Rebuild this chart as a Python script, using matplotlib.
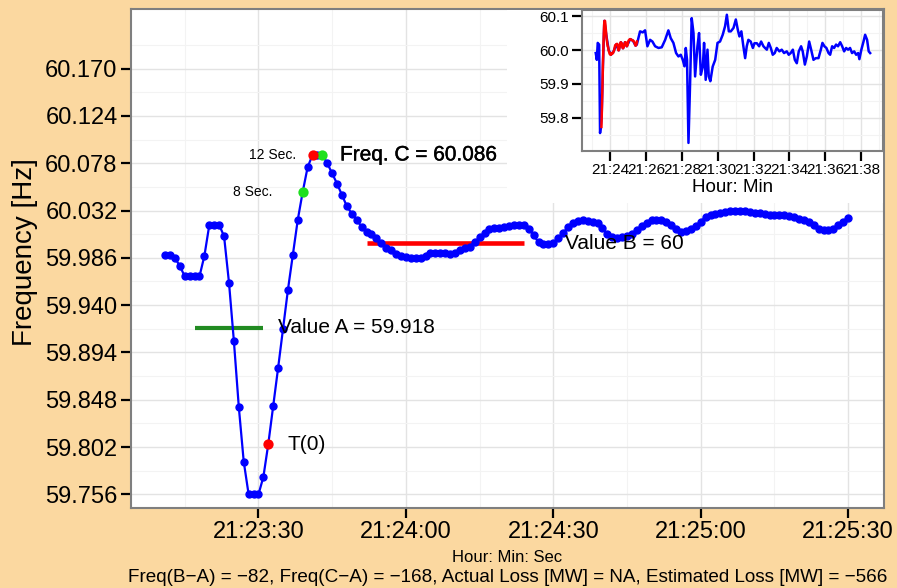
import numpy as np
import pandas as pd
import matplotlib
matplotlib.use('Agg')
import matplotlib.pyplot as plt
import matplotlib.dates as mdates
import matplotlib.patheffects as pe
from matplotlib.patches import Rectangle

plt.rcParams['font.family'] = ['Liberation Sans', 'DejaVu Sans']

day = '2014-06-01 '
bg_col = '#FBD8A0'

# 1 s frequency samples starting 21:23:11
freq = [59.989, 59.989, 59.986, 59.978, 59.968, 59.968, 59.968, 59.968, 59.988, 60.018,
        60.018, 60.018, 60.007, 59.962, 59.905, 59.841, 59.788, 59.756, 59.756, 59.756,
        59.773, 59.805, 59.842, 59.879, 59.917, 59.955, 59.989, 60.023, 60.050, 60.074,
        60.086, 60.086, 60.086, 60.078, 60.068, 60.058, 60.047, 60.036, 60.029, 60.023,
        60.016, 60.011, 60.009, 60.005, 60.000, 59.996, 59.994, 59.990, 59.988, 59.987,
        59.986, 59.986, 59.986, 59.988, 59.991, 59.991, 59.991, 59.991, 59.990, 59.991,
        59.994, 59.996, 59.997, 60.001, 60.006, 60.010, 60.014, 60.015, 60.015, 60.016,
        60.017, 60.018, 60.018, 60.018, 60.014, 60.008, 60.001, 59.999, 59.999, 60.000,
        60.005, 60.010, 60.016, 60.020, 60.022, 60.023, 60.022, 60.021, 60.020, 60.015,
        60.009, 60.006, 60.005, 60.006, 60.007, 60.009, 60.013, 60.017, 60.020, 60.023,
        60.023, 60.023, 60.021, 60.018, 60.014, 60.011, 60.012, 60.014, 60.017, 60.021,
        60.026, 60.028, 60.029, 60.030, 60.031, 60.032, 60.032, 60.032, 60.032, 60.031,
        60.030, 60.030, 60.029, 60.028, 60.028, 60.028, 60.028, 60.027, 60.026, 60.024,
        60.023, 60.021, 60.018, 60.014, 60.013, 60.013, 60.014, 60.018, 60.021, 60.025]
start = '21:23:11'
i_t0, i_8s, i_peak, i_12s = 21, 28, 30, 32

value_a = 59.918
value_b = 60.0
freq_c = 60.086
a_span = ('21:23:17', '21:23:31')
b_span = ('21:23:52', '21:24:24')

# wider view: minutes past 21:00 and frequency
inset_min = [23.20, 23.26, 23.31, 23.39, 23.44, 23.53, 23.60, 23.68, 23.78, 23.92,
             24.05, 24.18, 24.35, 24.48, 24.60, 24.72, 24.83, 24.93, 25.12, 25.27,
             25.42, 25.49, 25.67, 25.82, 25.95, 26.08, 26.23, 26.36, 26.51, 26.70,
             26.88, 27.07, 27.25, 27.38, 27.53, 27.68, 27.81, 27.94, 28.05, 28.15,
             28.22, 28.29, 28.37, 28.46, 28.55, 28.65, 28.74, 28.87, 28.96, 29.06,
             29.17, 29.24, 29.33, 29.43, 29.50, 29.59, 29.72, 29.86, 29.99, 30.13,
             30.28, 30.41, 30.51, 30.62, 30.73, 30.88, 31.01, 31.12, 31.21, 31.32,
             31.43, 31.53, 31.62, 31.71, 31.84, 31.96, 32.05, 32.18, 32.31, 32.42,
             32.55, 32.64, 32.74, 32.85, 32.96, 33.07, 33.18, 33.29, 33.44, 33.57,
             33.70, 33.85, 33.96, 34.07, 34.19, 34.30, 34.41, 34.52, 34.65, 34.74,
             34.86, 34.97, 35.10, 35.21, 35.34, 35.47, 35.62, 35.75, 35.84, 35.95,
             36.06, 36.18, 36.27, 36.38, 36.49, 36.60, 36.71, 36.83, 36.94, 37.05,
             37.16, 37.27, 37.38, 37.49, 37.61, 37.72, 37.83, 37.90, 38.01, 38.13,
             38.22, 38.33, 38.42, 38.50]
inset_hz = [59.991, 59.971, 60.021, 60.016, 59.755, 59.805, 59.955, 60.086, 60.047, 60.000,
            59.986, 59.994, 60.017, 59.999, 60.023, 60.005, 60.023, 60.011, 60.032, 60.028,
            60.013, 60.016, 60.055, 60.052, 60.058, 60.011, 60.030, 60.025, 60.011, 60.006,
            60.008, 60.030, 60.058, 60.035, 60.021, 59.991, 59.981, 59.986, 59.971, 59.952,
            60.006, 59.971, 59.726, 59.902, 60.094, 60.050, 59.922, 60.011, 60.050, 59.927,
            59.951, 60.021, 59.912, 60.001, 59.922, 59.908, 59.951, 59.971, 60.021, 60.025,
            60.045, 60.070, 60.104, 60.055, 60.055, 60.065, 60.090, 60.060, 60.040, 60.055,
            60.011, 59.976, 60.011, 60.030, 60.025, 60.006, 60.020, 60.020, 60.011, 60.025,
            60.011, 60.006, 60.001, 60.021, 60.006, 59.986, 59.991, 60.006, 59.996, 60.001,
            59.991, 59.996, 59.986, 59.991, 60.001, 59.971, 59.961, 59.996, 60.011, 59.996,
            59.957, 59.981, 60.025, 60.001, 59.971, 59.976, 59.976, 60.001, 60.021, 60.011,
            60.006, 59.991, 59.986, 60.011, 60.006, 60.016, 60.011, 60.023, 60.011, 59.996,
            60.006, 60.001, 60.006, 59.991, 59.996, 59.986, 59.991, 59.973, 60.001, 60.025,
            60.045, 60.030, 59.996, 59.991]


def t(s):
    return mdates.date2num(pd.Timestamp(day + s))


times = pd.date_range(pd.Timestamp(day + start), periods=len(freq), freq='s')
x = mdates.date2num(times.to_pydatetime())
y = np.array(freq)
ix = mdates.date2num((pd.Timestamp(day + '21:00') +
                      pd.to_timedelta(inset_min, unit='min')).to_pydatetime())

W, H = 897, 588
fig = plt.figure(figsize=(W / 100, H / 100), dpi=100, facecolor=bg_col)


def frame(px_l, px_t, px_r, px_b):
    return [px_l / W, 1 - px_b / H, (px_r - px_l) / W, (px_b - px_t) / H]


def style(a, lw_border):
    a.set_facecolor('white')
    for s in a.spines.values():
        s.set_color('#7F7F7F')
        s.set_linewidth(lw_border)
    a.grid(which='major', color='#E3E3E3', lw=1.0)
    a.grid(which='minor', color='#F3F3F3', lw=0.8)
    a.set_axisbelow(True)
    a.tick_params(which='minor', length=0)


# main panel
ax = fig.add_axes(frame(130.7, 9.4, 884, 508))
style(ax, 1.5)

ax.plot([t(a_span[0]), t(a_span[1])], [value_a] * 2, color='#228B22', lw=3,
        solid_capstyle='butt', zorder=2)
ax.plot([t(b_span[0]), t(b_span[1])], [value_b] * 2, color='red', lw=3.3,
        solid_capstyle='butt', zorder=2)
ax.plot(x, y, '-o', color='blue', lw=1.6, ms=5, zorder=3)
ax.plot(x[[i_8s, i_12s]], y[[i_8s, i_12s]], 'o', color='#1EE01E', ms=6.4, zorder=4)
ax.plot(x[[i_t0, i_peak]], y[[i_t0, i_peak]], 'o', color='red', ms=6.4, zorder=4)

ax.text(t('21:23:37.6'), freq_c, '12 Sec.', ha='right', va='center', fontsize=10)
ax.text(t('21:23:32.8'), y[i_8s], '8 Sec.', ha='right', va='center', fontsize=10)
ax.text(t('21:23:46.6'), freq_c, f'Freq. C = {freq_c:g}', ha='left', va='center',
        fontsize=15, path_effects=[pe.withStroke(linewidth=0.3, foreground='black')])
ax.text(t('21:23:34'), value_a, f'Value A = {value_a:g}', ha='left', va='center',
        fontsize=15)
ax.text(t('21:24:32.3'), value_b, f'Value B = {value_b:g}', ha='left', va='center',
        fontsize=15)
ax.text(t('21:23:36'), y[i_t0], 'T(0)', ha='left', va='center', fontsize=15)

yt = [59.756 + 0.046 * k for k in range(10)]
ax.set_yticks(yt)
ax.set_yticklabels([f'{v:.3f}' for v in yt])
ax.set_yticks([59.756 + 0.023 * k for k in range(-1, 21, 2)], minor=True)
ax.set_ylim(59.7428, 60.2275)

xt = ['21:23:30', '21:24:00', '21:24:30', '21:25:00', '21:25:30']
ax.set_xticks([t(s) for s in xt])
ax.set_xticks([t(s) for s in ['21:23:15', '21:23:45', '21:24:15', '21:24:45', '21:25:15']],
              minor=True)
ax.xaxis.set_major_formatter(mdates.DateFormatter('%H:%M:%S'))
ax.set_xlim(t('21:23:04'), t('21:25:37.3'))
ax.tick_params(which='major', length=7.5, width=1.6, labelsize=17, pad=2,
               color='black', labelcolor='black')

fig.text(25 / W, 1 - 252 / H, 'Frequency [Hz]', rotation=90, ha='center', va='center',
         fontsize=20)
fig.text(507 / W, 1 - 558 / H, 'Hour: Min: Sec', ha='center', va='center', fontsize=12)
fig.text(508 / W, 1 - 578 / H,
         'Freq(B\u2212A) = \u221282, Freq(C\u2212A) = \u2212168, Actual Loss [MW] = NA, '
         'Estimated Loss [MW] = \u2212566', ha='center', va='center', fontsize=13.6)

# inset with the longer record
fig.add_artist(Rectangle((507 / W, 1 - 203 / H), (883 - 507) / W, (203 - 10.5) / H,
                         transform=fig.transFigure, facecolor='white',
                         edgecolor='none', zorder=1))
ins = fig.add_axes(frame(581.7, 10, 883.3, 150.7))
ins.set_zorder(2)
style(ins, 1.5)
ins.plot(ix, inset_hz, color='blue', lw=1.8)
ins.plot(x[i_t0 - 1:], y[i_t0 - 1:], color='red', lw=1.8)
ins.set_yticks([59.8, 59.9, 60.0, 60.1])
ins.set_yticklabels(['59.8', '59.9', '60.0', '60.1'])
ins.set_yticks([59.75, 59.85, 59.95, 60.05], minor=True)
ins.set_ylim(59.703, 60.118)
ins.set_xticks([t(f'21:{m}') for m in range(24, 39, 2)])
ins.set_xticks([t(f'21:{m}') for m in range(23, 40, 2)], minor=True)
ins.xaxis.set_major_formatter(mdates.DateFormatter('%H:%M'))
ins.set_xlim(t('21:22:25'), t('21:39:14'))
ins.tick_params(which='major', length=7, width=1.6, labelsize=11, pad=2,
                color='black', labelcolor='black')
ins.set_xlabel('Hour: Min', fontsize=13.5, labelpad=1)

fig.savefig('out.png', dpi=100, facecolor=bg_col)
